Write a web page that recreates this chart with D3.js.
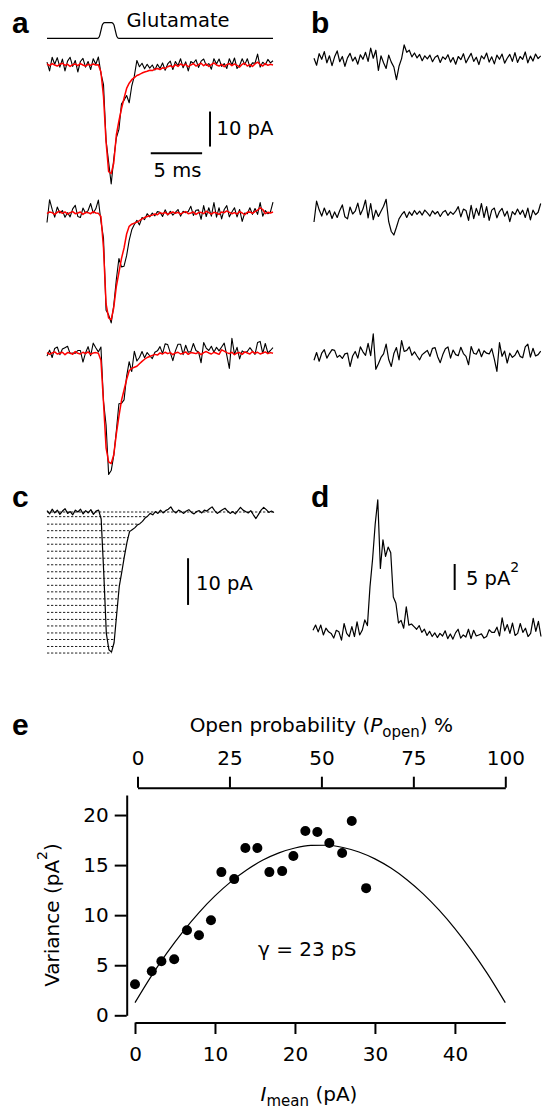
<!DOCTYPE html>
<html>
<head>
<meta charset="utf-8">
<script src="https://cdn.jsdelivr.net/npm/d3@7/dist/d3.min.js"></script>
<style>
body { margin: 0; background: #fff; }
svg { display: block; }
text { font-family: "DejaVu Sans", sans-serif; fill: #000; }
</style>
</head>
<body>
<div id="chart-area"></div>
<script>
// ---- data (all traces sampled every 0.25 ms, 0..22 ms) ----
var dt = 0.25;

// glutamate pulse (ms, relative level)
var glutT  = [0, 4.9, 5.1, 5.25, 5.4, 5.6, 6.3, 6.5, 6.65, 6.8, 7.0, 22];
var glutOn = [0, 0, 0.12, 0.5, 0.88, 1, 1, 0.88, 0.5, 0.12, 0, 0];

// red fits in panel a (pA)
var redFit1 = [0.3,-0.2,0.4,0,-0.3,0.2,0.5,-0.1,0.2,-0.4,0.1,0.3,-0.2,0.4,0,-0.3,0.2,-0.1,0.3,0,0.1,
  -2,-9,-22,-30.5,-31,-28,-20,-16,-12.5,-9.5,-6.7,-5.2,-4.2,-3.6,-3.0,-2.7,-2.3,-2.0,-1.8,-1.5,-1.6,-1.2,-1.0,-1.3,-0.8,-1.0,
  -0.5,-0.2,-0.6,0.1,-0.4,0.3,-0.2,0.2,-0.5,0,0.4,-0.3,0.1,0.5,-0.2,0.3,-0.4,0.1,0.6,0,-0.3,0.2,-0.5,0.1,0.4,-0.2,0.3,-0.1,-0.6,0.2,0.5,-0.3,0.1,-0.4,0.3,0.8,0.2,-0.3,0.4,-0.1,0.2,0];
var redFit2 = [-0.2,0.3,0.1,-0.4,0.2,0.5,-0.1,0.3,-0.3,0.1,0.4,-0.2,0,0.3,-0.4,0.2,0.1,-0.2,0.4,0,-0.1,
  -1,-10,-26,-30,-30.5,-27,-21,-17,-13,-10,-6,-3.8,-3.2,-2.9,-2.6,-2.2,-1.7,-1.3,-1.0,-0.8,
  -0.6,-0.3,-0.5,0.1,-0.2,0.2,-0.4,0,0.3,-0.1,0.2,-0.3,0.1,0.4,-0.2,0,0.3,-0.4,0.1,0.2,-0.2,0.5,0.1,-0.3,0.2,0,-0.4,0.3,0.1,0.6,0.2,-0.2,0.1,-0.3,0.4,0,-0.5,0.2,0.3,-0.1,0.4,0.8,1.5,1.0,-0.2,0.2,0,0.3];
var redFit3 = [0.2,-0.3,0.1,0.4,-0.2,0,0.3,-0.4,0.2,0.1,-0.3,0.5,0,-0.2,0.3,-0.1,0.4,-0.3,0.1,0.2,0,
  -2,-14,-27,-31,-31.5,-29,-23,-18,-13.5,-10.5,-7.5,-5,-4.3,-4.0,-3.7,-3.0,-2.3,-1.7,-1.2,-0.9,-0.6,
  -0.3,-0.5,0.1,-0.2,0.3,-0.1,0.2,-0.4,0.1,0.3,-0.2,0,0.4,-0.3,0.2,0.1,-0.1,0.3,-0.4,0.2,0.5,0.1,-0.2,0.3,0,-0.3,1.0,0.6,0.2,-0.1,0.3,-0.4,0.1,0.2,-0.3,0.4,0.1,-0.2,0.5,0,0.3,-0.2,0.1,0.4,-0.1,0.2,0];

// panel b: response minus fit (pA)
var diff1 = [0.5,-1.5,1.8,0.2,2.4,-0.8,1.2,-1.6,0.9,2.6,
  -0.5,1.0,-1.8,0.6,1.9,-0.3,0.8,-1.2,1.5,0.2,
  2.2,-0.4,3.4,0.5,2.8,-3.0,1.2,-0.8,-2.4,1.4,
  -0.6,-2.0,-5.6,-1.8,0.4,4.3,2.2,2.8,0.9,2.0,
  0.6,1.6,-0.2,1.2,0.3,1.4,-0.5,0.8,1.3,-0.7,
  0.9,0.2,1.5,-0.6,0.7,-1.2,1.0,0.1,1.8,-0.8,
  0.6,1.9,-0.4,0.8,-1.3,1.2,0.3,2.0,-0.6,0.9,
  -1.1,1.4,0.2,1.7,-0.9,0.5,1.6,-0.4,2.1,-0.7,
  1.0,0.2,2.3,-0.8,1.1,-0.3,1.7,0.4,1.2];
var diff2 = [-2.5,3.5,1.0,-0.8,1.5,-0.5,0.8,-1.5,0.4,-1.2,
  0.8,2.4,-1.0,-1.6,1.8,-0.2,0.6,2.9,-0.4,1.2,
  3.8,-1.3,2.8,-1.8,0.9,-0.9,0.6,2.0,4.0,-2.4,
  -5.2,-6.2,-4.0,-1.6,-0.4,0.5,-1.2,0.4,-0.6,0.8,
  -0.3,0.6,-0.5,0.9,0.1,-0.8,0.7,-0.2,0.5,-0.9,
  0.3,0.8,-0.6,0.4,-0.3,0.6,1.9,-1.0,1.2,0.8,
  -2.0,2.3,-1.5,1.4,-0.6,2.8,-1.2,1.9,-2.0,0.9,
  1.5,-1.3,0.5,1.4,-0.8,0.6,-2.4,0.5,-0.4,1.2,
  -0.3,0.9,-1.2,1.5,-1.9,0.9,-0.4,0.3,2.8];
var diff3 = [-1.0,1.2,-1.3,1.0,2.0,-0.4,0.9,2.0,1.8,-0.2,
  0.4,-0.5,0.8,1.0,-2.8,0.2,1.5,-0.4,2.8,1.4,
  0.4,3.8,0.3,6.5,-3.6,-2.0,-0.2,0.8,3.6,-0.8,
  -2.8,0.9,2.6,-0.9,4.6,1.5,1.8,2.8,0.4,1.4,
  0.2,-0.9,0.6,1.2,1.8,0.1,2.4,2.6,0.0,-1.7,
  0.6,2.3,2.8,-0.4,1.9,0.6,0.3,2.7,0.9,0.1,
  -2.3,2.9,1.0,0.7,2.2,0.0,1.7,1.0,0.8,2.3,
  -0.7,-4.2,4.0,0.1,1.6,-1.8,1.0,-0.2,0.4,1.8,
  0.1,-0.3,2.8,3.6,-0.1,2.4,0.2,0.6,1.6];

// panel c: mean current (pA) and the current levels of the bins
var meanTrace = [0.3,-0.4,0.6,-0.2,0.4,-0.5,0.2,0.7,-0.3,0.1,-0.6,0.4,0.0,0.6,-0.4,0.3,-0.2,0.5,-0.5,0.2,0.4,
  -1.5,-13,-26,-29.5,-30,-28,-22,-16,-12.8,-9.5,-6.5,-4.2,-3.8,-3.4,-2.8,-2.5,-2.0,-1.3,-0.9,-0.3,
  -0.6,0.1,-0.3,0.4,-0.2,0.3,0.6,1.1,0.2,-0.2,0.4,0.1,-0.3,0.2,0.5,-0.1,-0.4,0.1,0.3,-0.2,0.4,0.2,0.7,1.1,0.3,-0.3,0.1,0.5,0.8,0.2,-0.3,0.1,-0.4,0.3,1.0,0.4,0.1,-0.2,0.3,-0.6,-1.4,-0.5,0.4,1.0,0.5,-0.1,0.2,-0.1];
var cLevels = [0, -1.0, -2.6, -4.0, -5.5, -6.9, -8.4, -9.9, -11.3, -12.8, -14.2, -15.7, -17.1, -18.6, -20.0, -21.5, -23.0, -24.4, -25.9, -27.3, -28.8, -30.2];

// panel d: variance (pA^2)
var varTrace = [3.6,4.6,3.3,4.6,2.7,4.0,3.3,3.0,2.1,3.6,
  3.3,1.7,4.9,3.0,2.4,4.3,2.4,5.2,2.7,3.6,
  5.6,4.5,12.0,17.3,24.0,28.7,15.5,21.0,17.8,19.6,
  18.5,10.0,8.8,5.0,5.5,4.0,8.1,4.6,4.8,4.3,
  3.8,4.5,3.2,3.8,2.6,3.4,2.4,3.1,2.2,3.0,
  2.5,3.5,2.0,2.9,1.9,3.1,3.8,2.1,2.7,2.3,
  3.8,2.0,3.6,2.5,2.7,2.9,2.1,2.4,3.7,3.2,
  3.2,4.2,2.5,6.0,3.5,4.7,3.0,5.0,2.6,3.0,
  4.9,3.2,4.0,2.4,3.0,5.9,3.4,5.3,2.4];

// panel e: variance vs mean current
var iMean    = [0.0, 2.1, 3.3, 4.9, 6.5, 8.0, 9.5, 10.8, 12.4, 13.8, 15.3, 16.8, 18.4, 19.8, 21.3, 22.8, 24.3, 25.9, 27.1, 28.9];
var variance = [3.1, 4.4, 5.4, 5.6, 8.5, 8.0, 9.5, 14.3, 13.6, 16.7, 16.7, 14.3, 14.4, 15.9, 18.4, 18.3, 17.2, 16.2, 19.4, 12.7];
var fitI   = [0, 2, 4, 6, 8, 10, 12, 14, 16, 18, 20, 22, 24, 26, 28, 30, 32, 34, 36, 38, 40, 42, 44, 46.3];
var fitVar = [1.26, 3.86, 6.23, 8.36, 10.26, 11.92, 13.35, 14.54, 15.5, 16.22, 16.71, 16.96, 16.98, 16.76, 16.31, 15.62, 14.7, 13.54, 12.15, 10.52, 8.66, 6.56, 4.23, 1.26];
var eXTicks = [0, 10, 20, 30, 40];
var eYTicks = [0, 5, 10, 15, 20];
var pOpenTicks = [0, 25, 50, 75, 100];

// ---- layout ----
var W = 544, H = 1115;
var time = d3.range(redFit1.length).map(function(i) { return i * dt; });
var aBase = [65, 213, 353.3];
var bBase = [60, 213.3, 356.7];

var svg = d3.select("#chart-area").append("svg")
  .attr("width", W)
  .attr("height", H);

function letter(s, x, y) {
  svg.append("text").attr("x", x).attr("y", y).text(s)
    .style("font-family", "'Liberation Sans', Arial, sans-serif")
    .attr("font-weight", "bold").attr("font-size", 30);
}
letter("a", 12, 33);
letter("b", 311, 33);
letter("c", 12, 506.5);
letter("d", 311, 506.5);
letter("e", 12, 735);

// ---- panel a ----
var aX = d3.scaleLinear().domain([0, 22]).range([47, 273]);
function pAscale(base, pxPer10) {
  return d3.scaleLinear().domain([0, -10]).range([base, base + pxPer10]);
}

var glutY = d3.scaleLinear().domain([0, 1]).range([38.3, 22.7]);
svg.append("path")
  .datum(d3.zip(glutT, glutOn))
  .attr("fill", "none").attr("stroke", "#000").attr("stroke-width", 1.2)
  .attr("d", d3.line().x(function(d) { return aX(d[0]); }).y(function(d) { return glutY(d[1]); }).curve(d3.curveMonotoneX));
svg.append("text").attr("x", 126.5).attr("y", 26.7).attr("font-size", 19.5).text("Glutamate");

var redFits = [redFit1, redFit2, redFit3];
var diffs = [diff1, diff2, diff3];

redFits.forEach(function(fit, k) {
  var y = pAscale(aBase[k], 35);
  var black = fit.map(function(v, i) { return v + diffs[k][i]; });
  var line = d3.line().x(function(d, i) { return aX(time[i]); }).y(function(d) { return y(d); });
  svg.append("path").datum(black)
    .attr("fill", "none").attr("stroke", "#000").attr("stroke-width", 1.1)
    .attr("stroke-linejoin", "round").attr("d", line);
  svg.append("path").datum(fit)
    .attr("fill", "none").attr("stroke", "#ff0000").attr("stroke-width", 1.5)
    .attr("stroke-linejoin", "round").attr("d", line);
});

// scale bars in a (10 pA, 5 ms)
var y1 = pAscale(aBase[0], 35);
svg.append("line").attr("x1", aX(15.87)).attr("x2", aX(15.87))
  .attr("y1", y1(-13.3)).attr("y2", y1(-23.3))
  .attr("stroke", "#000").attr("stroke-width", 2);
svg.append("text").attr("x", 216.5).attr("y", 135).attr("font-size", 19.5).text("10 pA");
svg.append("line").attr("x1", aX(10.1)).attr("x2", aX(15.1))
  .attr("y1", y1(-25.2)).attr("y2", y1(-25.2))
  .attr("stroke", "#000").attr("stroke-width", 2);
svg.append("text").attr("x", 177.5).attr("y", 176.7).attr("text-anchor", "middle").attr("font-size", 19.5).text("5 ms");

// ---- panel b ----
var bX = d3.scaleLinear().domain([0, 22]).range([314, 540.7]);
diffs.forEach(function(dd, k) {
  var y = pAscale(bBase[k], 35);
  svg.append("path").datum(dd)
    .attr("fill", "none").attr("stroke", "#000").attr("stroke-width", 1.2)
    .attr("stroke-linejoin", "round")
    .attr("d", d3.line().x(function(d, i) { return bX(time[i]); }).y(function(d) { return y(d); }));
});

// ---- panel c ----
var cX = d3.scaleLinear().domain([0, 22]).range([47, 274]);
var cY = pAscale(512, 46.7);
var trough = d3.minIndex(meanTrace);
cLevels.forEach(function(lv) {
  var xEnd;
  if (lv >= 0) {
    xEnd = cX(time[time.length - 1]);
  } else {
    var j = trough;
    while (j < meanTrace.length && meanTrace[j] < lv) j++;
    if (j === trough) xEnd = cX(time[j]);
    else {
      var f = (lv - meanTrace[j - 1]) / (meanTrace[j] - meanTrace[j - 1]);
      xEnd = cX(time[j - 1] + f * dt);
    }
  }
  svg.append("line")
    .attr("x1", cX(0)).attr("x2", xEnd)
    .attr("y1", cY(lv)).attr("y2", cY(lv))
    .attr("stroke", "#222").attr("stroke-width", 1)
    .attr("stroke-dasharray", "2.3,1.7");
});
svg.append("path").datum(meanTrace)
  .attr("fill", "none").attr("stroke", "#000").attr("stroke-width", 1.2)
  .attr("stroke-linejoin", "round")
  .attr("d", d3.line().x(function(d, i) { return cX(time[i]); }).y(function(d) { return cY(d); }));
svg.append("line").attr("x1", cX(13.67)).attr("x2", cX(13.67))
  .attr("y1", cY(-9.9)).attr("y2", cY(-19.9))
  .attr("stroke", "#000").attr("stroke-width", 2);
svg.append("text").attr("x", 196).attr("y", 590).attr("font-size", 19.5).text("10 pA");

// ---- panel d ----
var dX = d3.scaleLinear().domain([0, 22]).range([313, 541]);
var dY = d3.scaleLinear().domain([0, 5]).range([649, 623]);
svg.append("path").datum(varTrace)
  .attr("fill", "none").attr("stroke", "#000").attr("stroke-width", 1.2)
  .attr("stroke-linejoin", "round")
  .attr("d", d3.line().x(function(d, i) { return dX(time[i]); }).y(function(d) { return dY(d); }));
svg.append("line").attr("x1", dX(13.67)).attr("x2", dX(13.67))
  .attr("y1", dY(11.35)).attr("y2", dY(16.35))
  .attr("stroke", "#000").attr("stroke-width", 2);
var dl = svg.append("text").attr("x", 466).attr("y", 585).attr("font-size", 19.5);
dl.append("tspan").text("5 pA");
dl.append("tspan").attr("font-size", 14).attr("dy", -13).text("2");

// ---- panel e ----
var eX = d3.scaleLinear().domain([0, 46.3]).range([135, 505.3]);
var eY = d3.scaleLinear().domain([0, 22]).range([1015.3, 795]);
var eTop = d3.scaleLinear().domain([0, 100]).range([137.5, 505.3]);

function styleAxis(g) {
  g.attr("font-family", null).attr("font-size", null);
  g.selectAll("path, line").attr("stroke", "#000").attr("stroke-width", 2);
  g.selectAll("text").attr("font-size", 20).attr("fill", "#000");
}

svg.append("g").attr("transform", "translate(126.7,0)")
  .call(d3.axisLeft(eY).tickValues(eYTicks).tickSize(12).tickSizeOuter(0).tickPadding(6))
  .call(styleAxis);
svg.append("g").attr("transform", "translate(0,1022.5)")
  .call(d3.axisBottom(eX).tickValues(eXTicks).tickSize(11.5).tickSizeOuter(0).tickPadding(12.7))
  .call(styleAxis);
svg.append("g").attr("transform", "translate(0,787.7)")
  .call(d3.axisTop(eTop).tickValues(pOpenTicks).tickSize(11).tickSizeOuter(0).tickPadding(11.7))
  .call(styleAxis);

svg.append("path").datum(d3.zip(fitI, fitVar))
  .attr("fill", "none").attr("stroke", "#000").attr("stroke-width", 1.2)
  .attr("d", d3.line().x(function(d) { return eX(d[0]); }).y(function(d) { return eY(d[1]); }).curve(d3.curveMonotoneX));

svg.append("g").selectAll("circle")
  .data(d3.zip(iMean, variance))
  .join("circle")
  .attr("cx", function(d) { return eX(d[0]); })
  .attr("cy", function(d) { return eY(d[1]); })
  .attr("r", 5)
  .attr("fill", "#000");

svg.append("text").attr("x", 258).attr("y", 956).attr("font-size", 20).text("\u03b3 = 23 pS");

var ot = svg.append("text").attr("x", 321.3).attr("y", 731.7).attr("text-anchor", "middle").attr("font-size", 20);
ot.append("tspan").text("Open probability (");
ot.append("tspan").attr("font-style", "italic").text("P");
ot.append("tspan").attr("font-size", 15).attr("dy", 5).text("open");
ot.append("tspan").attr("dy", -5).text(") %");

var xl = svg.append("text").attr("x", 309).attr("y", 1101).attr("text-anchor", "middle").attr("font-size", 20);
xl.append("tspan").attr("font-style", "italic").text("I");
xl.append("tspan").attr("font-size", 15).attr("dy", 5).text("mean");
xl.append("tspan").attr("dy", -5).text(" (pA)");

var vl = svg.append("text").attr("transform", "translate(59,915) rotate(-90)")
  .attr("text-anchor", "middle").attr("font-size", 20);
vl.append("tspan").text("Variance (pA");
vl.append("tspan").attr("font-size", 14).attr("dy", -12).text("2");
vl.append("tspan").attr("dy", 12).text(")");
</script>
</body>
</html>
